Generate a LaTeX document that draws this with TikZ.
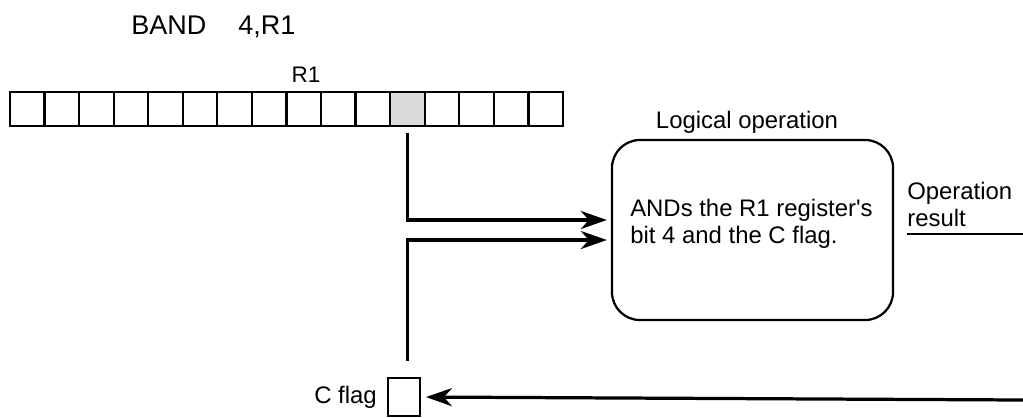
\documentclass[tikz,border=0pt]{standalone}
\usepackage{fontspec}
\setmainfont{Liberation Sans}[Ligatures=TeXOff]
\usetikzlibrary{arrows.meta, positioning, calc}
\definecolor{inkline}{HTML}{000000}
\definecolor{cellgray}{HTML}{D9D9D9}
\newcommand{\regcell}[3]{%
  \node[draw=inkline, line width=1.6pt, fill=#3, minimum width=0.864cm,
        minimum height=0.85cm, inner sep=0pt, outer sep=0pt] (#1) at (#2,109) {};}

\begin{document}
\begin{tikzpicture}[x=0.025cm, y=-0.025cm, font=\fontsize{17}{19.5}\selectfont,
    wire/.style={draw=inkline, line width=1.5pt},
    flow/.style={draw=inkline, line width=2.3pt, line cap=rect,
      -{Stealth[length=0.65cm, width=0.45cm, inset=0.2cm]}},
    opbox/.style={draw=inkline, line width=1.6pt, rounded corners=0.7cm,
      minimum width=7.025cm, minimum height=4.5cm, inner sep=0pt}]
  \useasboundingbox (0,0) rectangle (1023,417);
  \node[anchor=base west, inner sep=0pt, font=\fontsize{19.2}{22}\selectfont]
    (instr) at (131,34) {BAND\hspace{0.8cm}4,R1};
  \foreach \b in {0,...,15}{
    \pgfmathsetmacro{\cx}{10+34.56*(15.5-\b)}
    \ifnum\b=4 \def\cfill{cellgray}\else\def\cfill{white}\fi
    \regcell{b\b}{\cx}{\cfill}
  }
  \node[anchor=base, inner sep=0pt, font=\fontsize{16}{18}\selectfont]
    (rname) at (306,82) {R1};
  \node[opbox] (op) at (752.5,230) {};
  \node[anchor=base, inner sep=0pt] (optitle) at (747,128) {Logical operation};
  \node[anchor=west, align=left, inner sep=0pt] (optext) at (630,224)
    {ANDs the R1 register's\\bit 4 and the C flag.};
  \node[anchor=south west, align=left, inner xsep=0pt, inner ysep=0.175cm]
    (res) at (907,234) {Operation\\result};
  \node[draw=inkline, line width=1.3pt, minimum width=0.8cm, minimum height=0.95cm,
    inner sep=0pt] (cf) at (404,397) {};
  \node[left=0.25cm of cf, inner sep=0pt] (cflabel) {C flag};
  \coordinate (up) at ([yshift=0.25cm]op.west);
  \coordinate (dn) at ([yshift=-0.25cm]op.west);
  \coordinate (back) at (1023,400);
  \draw[wire] ([yshift=-0.175cm]b4.south) -- (b4.south |- up);
  \draw[flow, shorten >=0.1cm] (b4.south |- up) -- (up);
  \draw[wire] ([yshift=0.4cm]cf.north -| b4.south) -- (b4.south |- dn);
  \draw[flow, shorten >=0.1cm] (b4.south |- dn) -- (dn);
  \draw[wire] (res.south west) -- (res.south west -| back);
  \draw[flow, shorten >=0.125cm] (back) -- (cf.east);
\end{tikzpicture}
\end{document}
